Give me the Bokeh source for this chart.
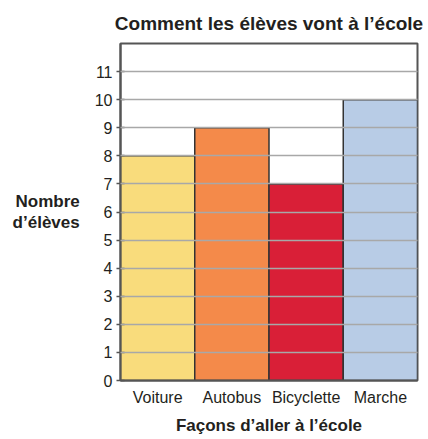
from bokeh.plotting import figure
from bokeh.models import FixedTicker, Range1d, FactorRange
from bokeh.embed import file_html
from bokeh.resources import INLINE

categories = ["Voiture", "Autobus", "Bicyclette", "Marche"]
values = [8, 9, 7, 10]
colors = ["#F9DC7C", "#F48A4A", "#D91F37", "#B8CCE6"]
y_ticks = list(range(0, 12))

FONT = "Liberation Sans"
TXT = "#231F20"

p = figure(width=424, height=437, output_backend="svg", toolbar_location=None,
           x_range=FactorRange(*categories, range_padding=0), y_range=Range1d(0, 12),
           min_border_left=120, min_border_right=7, min_border_top=43, min_border_bottom=57)

p.vbar(x=categories, top=values, width=1.0, fill_color=colors,
       line_color="#333333", line_width=1.5)

p.title.text = "Comment les élèves vont à l’école"
p.title.text_font = FONT
p.title.text_font_size = "19px"
p.title.text_font_style = "bold"
p.title.text_color = TXT
p.title.align = "center"
p.title.offset = -4
p.title.standoff = 19

p.outline_line_color = "#555555"
p.outline_line_width = 2
p.outline_line_alpha = 1

p.xgrid.grid_line_color = None
p.ygrid.grid_line_color = "#A8A8A8"
p.ygrid.grid_line_width = 1.6
p.ygrid.level = "overlay"
p.yaxis.ticker = FixedTicker(ticks=y_ticks)

p.yaxis.major_tick_out = 4
p.yaxis.major_tick_in = 4
p.yaxis.major_tick_line_color = "#555555"
p.yaxis.major_tick_line_width = 1.5
p.yaxis.minor_tick_line_color = None
p.yaxis.axis_line_color = "#555555"
p.yaxis.axis_line_width = 2
p.yaxis.major_label_text_font = FONT
p.yaxis.major_label_text_font_size = "16px"
p.yaxis.major_label_text_color = TXT
p.yaxis.major_label_standoff = 4
p.yaxis.axis_label = "Nombre\nd’élèves"
p.yaxis.axis_label_orientation = "horizontal"
p.yaxis.axis_label_text_font = FONT
p.yaxis.axis_label_text_font_size = "17px"
p.yaxis.axis_label_text_font_style = "bold"
p.yaxis.axis_label_text_color = TXT
p.yaxis.axis_label_text_align = "center"
p.yaxis.axis_label_text_line_height = 1.1
p.yaxis.axis_label_standoff = 12

p.xaxis.major_tick_line_color = None
p.xaxis.minor_tick_line_color = None
p.xaxis.axis_line_color = "#555555"
p.xaxis.axis_line_width = 2
p.xaxis.major_label_text_font = FONT
p.xaxis.major_label_text_font_size = "16px"
p.xaxis.major_label_text_color = TXT
p.xaxis.major_label_standoff = 2
p.xaxis.axis_label = "Façons d’aller à l’école"
p.xaxis.axis_label_text_font = FONT
p.xaxis.axis_label_text_font_size = "17px"
p.xaxis.axis_label_text_font_style = "bold"
p.xaxis.axis_label_text_color = TXT
p.xaxis.axis_label_standoff = 7

open("out.html", "w").write(file_html(p, INLINE))
